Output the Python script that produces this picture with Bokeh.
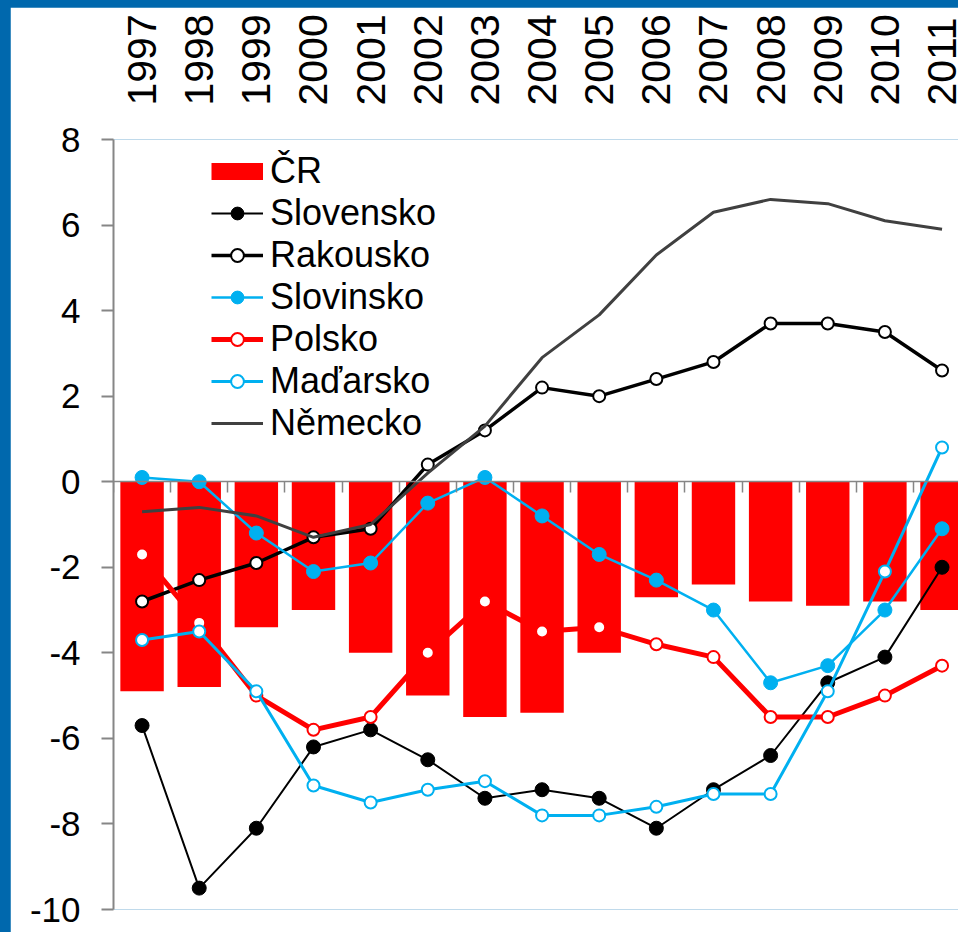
import math
from bokeh.plotting import figure
from bokeh.models import Range1d, LinearAxis, FixedTicker, Legend, LegendItem
from bokeh.embed import file_html
from bokeh.resources import INLINE

years = list(range(1997, 2012))
cr = [-4.9, -4.8, -3.4, -3.0, -4.0, -5.0, -5.5, -5.4, -4.0, -2.7, -2.4, -2.8, -2.9, -2.8, -3.0]
slovensko = [-5.7, -9.5, -8.1, -6.2, -5.8, -6.5, -7.4, -7.2, -7.4, -8.1, -7.2, -6.4, -4.7, -4.1, -2.0]
rakousko = [-2.8, -2.3, -1.9, -1.3, -1.1, 0.4, 1.2, 2.2, 2.0, 2.4, 2.8, 3.7, 3.7, 3.5, 2.6]
slovinsko = [0.1, 0.0, -1.2, -2.1, -1.9, -0.5, 0.1, -0.8, -1.7, -2.3, -3.0, -4.7, -4.3, -3.0, -1.1]
polsko = [-1.7, -3.3, -5.0, -5.8, -5.5, -4.0, -2.8, -3.5, -3.4, -3.8, -4.1, -5.5, -5.5, -5.0, -4.3]
madarsko = [-3.7, -3.5, -4.9, -7.1, -7.5, -7.2, -7.0, -7.8, -7.8, -7.6, -7.3, -7.3, -4.9, -2.1, 0.8]
nemecko = [-0.7, -0.6, -0.8, -1.3, -1.0, 0.2, 1.3, 2.9, 3.9, 5.3, 6.3, 6.6, 6.5, 6.1, 5.9]
y_ticks = list(range(-10, 9, 2))
y_tick_labels = {t: str(t) for t in y_ticks}
boundaries = [years[0] - 0.5] + [y + 0.5 for y in years]

FONT = "Liberation Sans"
RED = "#FF0000"
BLUE = "#00B0F0"
GRAY = "#868686"

p = figure(width=948, height=925, output_backend="svg", toolbar_location=None,
           x_range=Range1d(1996.5, 2011.288), y_range=Range1d(-10, 8),
           x_axis_location=None, y_axis_location="left",
           min_border_left=103, min_border_right=0, min_border_top=132, min_border_bottom=23,
           background_fill_color="white", border_fill_color="white")
p.outline_line_color = None
p.xgrid.visible = False
p.ygrid.visible = False

ya = p.yaxis[0]
ya.ticker = FixedTicker(ticks=y_ticks)
ya.major_label_overrides = y_tick_labels
ya.axis_line_color = GRAY
ya.axis_line_width = 2
ya.major_tick_line_color = GRAY
ya.major_tick_line_width = 2
ya.major_tick_out = 12
ya.major_tick_in = 0
ya.minor_tick_line_color = None
ya.major_label_standoff = 21
ya.major_label_text_font = FONT
ya.major_label_text_font_size = "35px"
ya.major_label_text_color = "black"

xtop = LinearAxis(ticker=FixedTicker(ticks=years), major_label_orientation=math.pi / 2,
                  axis_line_color=None, major_tick_line_color=None, minor_tick_line_color=None,
                  major_tick_out=0, major_tick_in=0, major_label_standoff=34,
                  major_label_text_font=FONT, major_label_text_font_size="41px",
                  major_label_text_color="black")
p.add_layout(xtop, "above")

xzero = LinearAxis(fixed_location=0, ticker=FixedTicker(ticks=boundaries),
                   axis_line_color=GRAY, axis_line_width=1.5,
                   major_tick_line_color=GRAY, major_tick_line_width=1.5,
                   major_tick_out=11, major_tick_in=0, minor_tick_line_color=None,
                   major_label_text_alpha=0, major_label_text_font_size="1px",
                   major_label_standoff=0)
p.add_layout(xzero, "below")

bars = p.vbar(x=years, top=cr, bottom=0, width=0.76, fill_color=RED, line_color=None)
cr_key = p.line(x=years, y=cr, line_color=RED, line_width=17, visible=False)

r_sk_l = p.line(years, slovensko, line_color="black", line_width=2)
r_sk_m = p.scatter(years, slovensko, size=14, fill_color="black", line_color="black", line_width=1)

r_at_l = p.line(years, rakousko, line_color="black", line_width=3.5)
r_at_m = p.scatter(years, rakousko, size=12, fill_color="white", line_color="black", line_width=2)

r_si_l = p.line(years, slovinsko, line_color=BLUE, line_width=2.5)
r_si_m = p.scatter(years, slovinsko, size=14, fill_color=BLUE, line_color=BLUE, line_width=1)

r_pl_l = p.line(years, polsko, line_color=RED, line_width=5)
r_pl_m = p.scatter(years, polsko, size=12, fill_color="white", line_color=RED, line_width=2)

r_hu_l = p.line(years, madarsko, line_color=BLUE, line_width=3)
r_hu_m = p.scatter(years, madarsko, size=12, fill_color="white", line_color=BLUE, line_width=2)

r_de_l = p.line(years, nemecko, line_color="#404040", line_width=3)

legend = Legend(items=[
    LegendItem(label="ČR", renderers=[cr_key]),
    LegendItem(label="Slovensko", renderers=[r_sk_l, r_sk_m]),
    LegendItem(label="Rakousko", renderers=[r_at_l, r_at_m]),
    LegendItem(label="Slovinsko", renderers=[r_si_l, r_si_m]),
    LegendItem(label="Polsko", renderers=[r_pl_l, r_pl_m]),
    LegendItem(label="Maďarsko", renderers=[r_hu_l, r_hu_m]),
    LegendItem(label="Německo", renderers=[r_de_l]),
], location=(98, 465), glyph_width=52, glyph_height=32, label_height=42,
   label_standoff=7, spacing=0, padding=0, margin=0,
   label_text_font=FONT, label_text_font_size="36px", label_text_color="black",
   border_line_color=None, background_fill_alpha=0, click_policy="none")
p.add_layout(legend, "center")

html = file_html(p, INLINE)
style = ("<style>html{background-color:#0068AD;overflow:hidden;}"
         "body{margin:7px 0 0 10px;background-color:#0068AD;}</style></head>")
html = html.replace("</head>", style, 1)
open("out.html", "w").write(html)
